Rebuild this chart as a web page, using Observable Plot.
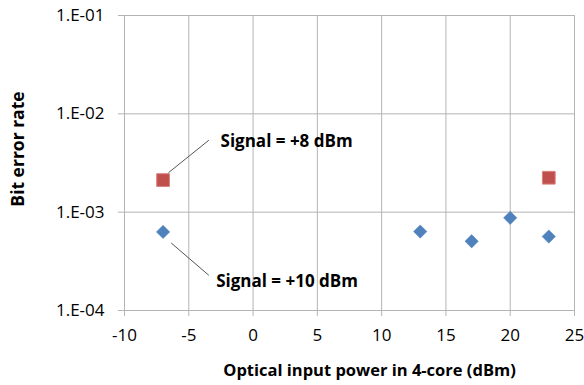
<!DOCTYPE html>
<html><head><meta charset="utf-8">
<script src="https://cdn.jsdelivr.net/npm/d3@7"></script>
<script src="https://cdn.jsdelivr.net/npm/@observablehq/plot@0.6"></script>
<style>body{margin:0;background:#fff}</style>
</head><body><div id="chart"></div>
<script>
// Series: Signal = +8 dBm (red squares)
const sig8X = [-7, 23];
const sig8Y = [2.12e-3, 2.24e-3];
// Series: Signal = +10 dBm (blue diamonds)
const sig10X = [-7, 13, 17, 20, 23];
const sig10Y = [6.3e-4, 6.35e-4, 5.06e-4, 8.75e-4, 5.65e-4];
// Ticks
const xTicks = [-10, -5, 0, 5, 10, 15, 20, 25];
const yTicks = [1e-4, 1e-3, 1e-2, 1e-1];
// Annotations
const annText = ["Signal = +8 dBm", "Signal = +10 dBm"];
const annTextX = [-2.53, -2.87];
const annTextY = [5.18e-3, 1.98e-4];
const annX1 = [-6.58, -6.37];
const annY1 = [2.52e-3, 4.86e-4];
const annX2 = [-3.44, -3.44];
const annY2 = [5.39e-3, 2.28e-4];
const xTitle = "Optical input power in 4-core (dBm)";
const yTitle = "Bit error rate";

const s8 = sig8X.map((x, i) => ({x, y: sig8Y[i]}));
const s10 = sig10X.map((x, i) => ({x, y: sig10Y[i]}));
const ann = annText.map((t, i) => ({t, x: annTextX[i], y: annTextY[i], x1: annX1[i], y1: annY1[i], x2: annX2[i], y2: annY2[i]}));
const grid = "#b4b4b4";
const fmtY = d => "1.E-" + String(Math.round(-Math.log10(d))).padStart(2, "0");
const fmtX = d => String(d);

const chart = Plot.plot({
  width: 584, height: 385,
  marginLeft: 124, marginRight: 10, marginTop: 15, marginBottom: 75,
  style: {fontFamily: "'Open Sans', sans-serif", fontSize: "17px", color: "#000", background: "#fff"},
  x: {domain: [-10, 25]},
  y: {type: "log", domain: [1e-4, 1e-1]},
  marks: [
    Plot.gridX(xTicks, {stroke: grid, strokeOpacity: 1, strokeWidth: 1}),
    Plot.gridY(yTicks, {stroke: grid, strokeOpacity: 1, strokeWidth: 1}),
    Plot.axisX(xTicks, {stroke: grid, tickSize: 6, tickPadding: 12, tickFormat: fmtX, label: null, fill: "#000", fontSize: 17}),
    Plot.axisY(yTicks, {stroke: grid, tickSize: 6, tickPadding: 14, tickFormat: fmtY, label: null, fill: "#000", fontSize: 17}),
    Plot.link(ann, {x1: "x1", y1: "y1", x2: "x2", y2: "y2", stroke: "#555", strokeWidth: 1}),
    Plot.text(ann, {x: "x", y: "y", text: "t", textAnchor: "start", fontWeight: "bold", fontSize: 17, fill: "#000"}),
    Plot.dot(s8, {x: "x", y: "y", symbol: "square", r: 7.2, fill: "#c0504d", stroke: "#d9837f", strokeWidth: 1}),
    Plot.dot(s10, {x: "x", y: "y", symbol: "diamond2", r: 6.0, fill: "#4f81bd", stroke: "#4f81bd", strokeWidth: 0.5}),
    Plot.text([xTitle], {frameAnchor: "bottom", textAnchor: "middle", lineAnchor: "middle", dx: 20, dy: 60, text: d => d, fontWeight: "bold", fontSize: 16.5, fill: "#000"}),
    Plot.text([yTitle], {frameAnchor: "left", textAnchor: "middle", lineAnchor: "middle", dx: -106, dy: -14, rotate: -90, text: d => d, fontWeight: "bold", fontSize: 17.5, fill: "#000"})
  ]
});
document.getElementById("chart").appendChild(chart);
</script>
</body></html>
